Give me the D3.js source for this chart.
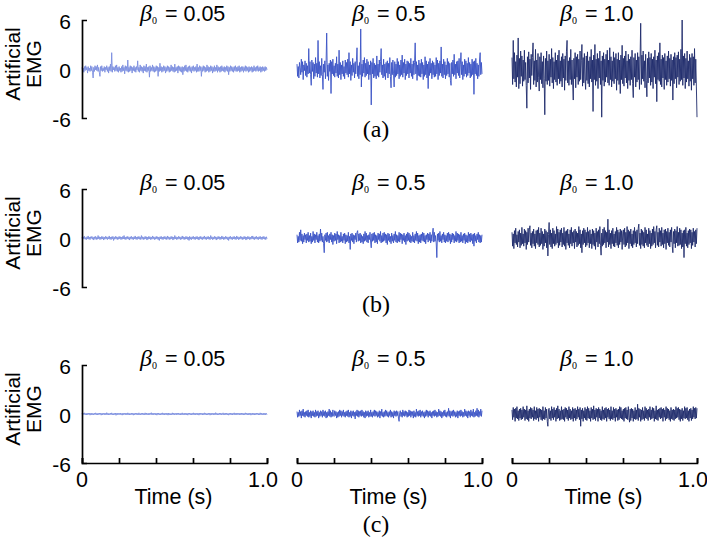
<!DOCTYPE html>
<html>
<head>
<meta charset="utf-8">
<script src="https://cdn.jsdelivr.net/npm/d3@7"></script>
<style>
  body { margin: 0; background: #fff; }
  svg { display: block; }
  text { font-family: "Liberation Sans", Arial, sans-serif; fill: #000; }
</style>
</head>
<body>
<div id="chart"></div>
<script>
// labels
const betas = ["0.05", "0.5", "1.0"];
const rowLabels = ["(a)", "(b)", "(c)"];
const yTicks = [-6, 0, 6];
const xTicks = [0, 0.2, 0.4, 0.6, 0.8, 1.0];
const xTickLabels = ["0", "1.0"];

// artificial EMG traces (arbitrary units, 0..1 s)
const emgA005 = [
  0.2,-0.3,0.1,-0.4,0.3,-0.2,0.4,-0.1,0.2,-0.5,0.3,-0.2,0.1,-0.3,0.4,-0.2,0.3,-0.4,-1.1,0.2,
  -0.3,0.4,-0.1,0.3,-0.2,0.5,-0.3,0.2,-0.4,-0.9,0.3,-0.2,0.4,-0.3,0.1,-0.2,0.3,-0.4,0.2,-0.1,
  0.4,-0.3,0.2,-0.5,0.3,-0.2,0.6,-0.3,2.0,-0.4,0.3,-0.1,0.2,-0.3,0.4,-0.2,0.5,-0.3,0.2,-0.4,
  0.3,-0.2,0.1,-0.4,0.3,-0.3,0.5,-0.2,0.2,-0.6,0.4,-0.2,0.3,-0.3,1.1,-0.4,0.2,-0.3,0.4,-0.2,
  0.3,-0.5,0.2,-0.2,0.4,-0.3,0.2,-0.4,0.3,-0.1,1.0,-0.3,0.2,-0.4,0.5,-0.2,0.3,-0.3,0.2,-0.5,
  0.4,-0.2,0.3,-0.3,0.6,-0.4,0.2,-0.2,0.3,-1.0,0.4,-0.3,0.2,-0.2,0.5,-0.3,0.3,-0.4,0.2,-0.3,
  0.4,-0.2,0.3,-0.9,0.2,-0.3,0.7,-0.2,0.3,-0.4,0.2,-0.3,0.4,-0.2,0.3,-0.5,0.2,-0.3,0.4,-0.2,
  0.3,-0.4,0.2,-0.3,0.5,-0.2,0.3,-0.3,0.2,-0.4,0.6,-0.3,0.2,-0.2,0.3,-0.5,0.4,-0.2,0.3,-0.3,
  0.2,-0.4,0.3,-0.7,0.2,-0.3,0.4,-0.2,0.5,-0.3,0.2,-0.4,0.3,-0.2,0.4,-0.3,0.2,-0.5,0.3,-0.2,
  0.4,-0.3,0.2,-0.2,0.3,-0.4,0.6,-0.3,0.2,-0.3,0.4,-0.2,0.3,-0.9,0.2,-0.3,0.4,-0.2,0.3,-0.4,
  0.2,-0.3,0.5,-0.2,0.3,-0.4,0.2,-0.3,0.4,-0.2,0.3,-0.5,0.2,-0.3,0.4,-0.3,0.2,-0.2,0.5,-0.4,
  0.3,-0.2,0.2,-0.4,0.3,-0.3,0.4,-0.2,0.2,-0.3,0.3,-0.4,0.2,-0.2,0.4,-0.3,0.3,-0.7,0.2,-0.3,
  0.4,-0.2,0.3,-0.3,0.2,-0.4,0.3,-0.2,0.4,-0.3,0.2,-0.3,0.3,-0.2,0.4,-0.4,0.2,-0.3,0.3,-0.2,
  0.3,-0.4,0.2,-0.2,0.4,-0.3,0.3,-0.2,0.2,-0.4,0.3,-0.3,0.2,-0.2,0.3,-0.4,0.2,-0.3,0.4,-0.2,
  0.2,-0.3,0.3,-0.2,0.4,-0.3,0.2,-0.2,0.3,-0.4,0.2,-0.3,0.3,-0.2,0.2,-0.3,0.3,-0.2,0.2,-0.1
];
const emgA05 = [
  0.6,-0.9,0.3,-1.1,0.8,0.2,-0.7,1.2,-0.4,0.9,-1.3,0.5,-0.2,1.0,-0.8,0.7,-1.0,0.4,-0.6,2.5,
  -0.5,0.9,-0.7,-2.0,1.1,-0.3,0.8,-1.2,0.6,-0.9,1.4,-0.5,0.7,-1.0,3.5,-0.6,0.9,-1.1,0.4,-0.8,
  1.3,-0.7,-2.5,0.6,-0.4,1.0,-1.2,0.8,4.4,-0.9,0.5,-1.4,0.7,-0.3,1.1,-3.0,0.9,-0.6,1.2,-0.8,
  0.4,-1.0,0.7,-0.5,1.5,-0.9,0.6,-1.1,2.3,-0.7,0.8,-1.3,0.5,-0.6,1.0,-0.9,0.3,-1.2,1.1,-0.5,
  0.8,-0.7,1.2,-1.0,2.0,-0.6,0.9,-1.4,0.5,-0.8,1.3,-0.4,0.7,-1.1,0.9,-0.6,1.0,2.6,-0.9,0.4,
  -1.2,0.8,-0.7,4.9,-2.2,0.6,-0.9,1.1,-0.5,1.4,-1.0,0.7,-0.8,1.2,-0.6,0.9,-1.3,0.5,-0.7,1.0,
  -4.4,0.8,-0.6,1.3,-1.1,0.7,-0.9,0.5,-1.2,1.6,-0.8,0.6,-1.0,1.1,-0.4,0.9,2.5,-0.7,0.5,-1.1,
  1.2,-0.9,0.6,-1.3,0.8,-0.5,1.0,-1.1,0.7,-0.6,1.4,-0.9,-2.3,0.8,-0.7,1.1,-0.5,-2.2,0.9,-1.0,
  0.6,-0.8,1.3,-0.6,0.9,-1.2,0.5,-0.9,1.1,-0.7,1.7,-1.0,0.8,-0.5,1.2,-1.3,0.6,-0.8,1.0,-0.6,
  0.9,-1.1,0.7,-0.5,1.3,-0.9,0.6,-1.2,1.0,-0.7,0.8,3.2,-0.6,0.9,-1.4,0.5,-0.8,1.1,-0.9,0.7,
  -1.0,1.2,-0.6,0.8,-1.3,0.5,-0.9,1.5,-0.7,1.0,-1.1,0.6,-2.4,0.9,-0.8,1.3,-0.5,0.7,-1.2,1.0,
  -0.7,0.8,-1.0,0.5,-0.9,1.4,-0.6,1.1,-1.3,0.7,-0.8,1.0,-0.5,2.7,-0.9,0.6,-1.1,1.2,-0.7,0.9,
  -1.2,0.5,-0.8,1.3,-0.6,0.9,-1.0,0.7,-1.4,-2.0,0.8,-0.6,1.1,-0.9,1.8,-0.7,0.6,-1.2,0.9,-0.5,
  1.0,-0.8,1.3,-1.1,0.6,2.0,-0.7,0.9,-1.3,0.5,-0.9,1.2,-0.6,1.0,-1.0,0.7,-0.8,1.4,-0.5,0.8,
  -1.1,0.6,-0.9,1.2,-0.7,0.9,-3.1,1.0,-0.6,1.3,-0.8,0.7,-1.2,0.5,-0.9,1.1,2.0,-0.7,0.8,-0.6
];
const emgA10 = [
  1.4,-1.9,3.5,-1.2,2.0,-1.6,0.9,-2.2,1.7,-1.0,3.8,-2.4,1.3,-1.8,2.2,-0.9,1.6,-2.1,1.1,-1.5,
  2.3,-1.3,0.8,-2.0,-4.8,1.5,-1.7,2.1,-1.1,1.2,-2.5,1.8,-0.8,1.4,3.2,-1.9,1.0,-1.4,2.4,-2.2,
  1.1,-1.6,1.9,-1.0,-2.7,1.5,-1.3,2.0,-1.8,0.9,-2.3,1.6,-1.2,-5.6,1.3,-1.5,2.2,-1.9,1.0,-1.4,
  1.8,-2.1,1.2,-1.0,2.5,-1.7,1.4,-2.4,0.9,-1.3,2.0,-1.6,1.1,-2.0,1.7,-1.2,2.3,-1.8,1.0,-1.5,
  1.5,-2.2,1.9,-1.1,1.2,-2.6,1.6,-1.4,2.1,3.5,-1.7,1.0,-2.0,1.4,-1.3,2.4,-1.9,1.1,-1.6,-3.8,
  1.3,-1.2,2.0,-2.3,1.5,-1.0,1.8,-1.9,1.2,-1.5,2.2,-1.3,1.0,3.0,-2.1,1.4,-1.7,1.9,-1.1,-2.5,
  1.6,-1.4,2.1,-1.8,1.0,-2.2,1.5,-1.2,2.4,-1.6,1.1,-5.2,1.7,-1.3,3.0,-2.0,1.2,-1.5,1.9,-2.4,
  1.3,-1.1,2.2,-1.9,1.0,-5.9,1.6,-1.4,2.0,-2.1,1.2,-1.6,1.8,-1.0,2.3,-1.7,1.1,-2.0,2.6,-1.3,
  1.5,-2.2,1.0,-1.5,2.1,-1.8,1.4,-1.2,1.9,-2.6,1.2,-1.4,2.0,-1.9,1.1,-3.0,1.7,-1.3,2.9,-1.8,
  1.3,-2.1,1.6,-1.1,2.2,-1.7,1.0,-2.4,1.8,-1.4,1.2,-2.0,1.5,-1.3,2.3,-1.8,-3.5,1.4,-1.0,1.9,
  -2.2,1.1,-1.6,2.0,-1.3,1.5,-2.5,1.2,5.6,-1.9,1.7,-1.2,2.2,-1.5,1.0,-2.3,1.8,-1.4,-3.4,1.3,
  -1.7,2.1,-1.1,1.4,-2.0,1.9,-1.6,1.2,-2.4,1.5,-1.0,2.3,-1.8,1.1,-4.0,1.6,-1.3,2.0,-1.5,3.2,
  -1.9,1.2,-2.2,1.7,-1.1,1.4,-2.5,1.9,-1.3,1.0,-2.0,1.6,-1.6,2.2,-1.2,1.3,-2.1,1.8,-1.4,1.1,
  -3.8,1.5,-1.8,2.0,-1.2,1.4,-2.3,1.7,-1.0,2.1,-1.9,1.2,-1.5,2.4,-1.3,6.0,-2.0,1.6,-1.1,1.9,
  -2.4,1.3,-1.6,2.2,-1.2,1.0,-2.1,1.8,-1.5,1.4,-2.6,1.9,-1.2,1.5,-2.0,2.5,-1.7,1.2,-2.2,-5.9
];
const emgB005 = [
  0.1,-0.2,0.15,-0.1,0.2,-0.15,0.05,-0.2,0.15,-0.1,0.25,-0.15,0.1,-0.2,0.15,-0.05,0.2,-0.15,0.1,-0.25,
  0.15,-0.1,0.2,-0.2,0.1,-0.15,0.3,-0.1,0.15,-0.2,0.1,-0.15,0.2,-0.1,0.15,-0.25,0.1,-0.15,0.2,-0.1,
  0.15,-0.2,0.1,-0.1,0.25,-0.15,0.1,-0.2,0.15,-0.1,0.2,-0.3,0.1,-0.15,0.2,-0.1,0.15,-0.2,0.1,-0.15,
  0.2,-0.1,0.15,-0.2,0.1,-0.15,0.2,-0.1,0.3,-0.15,0.1,-0.2,0.15,-0.1,0.2,-0.15,0.1,-0.25,0.15,-0.1,
  0.2,-0.15,0.1,-0.2,0.15,-0.1,0.25,-0.15,0.1,-0.2,0.15,-0.1,0.2,-0.15,0.1,-0.2,0.3,-0.1,0.15,-0.2,
  0.1,-0.15,0.2,-0.1,0.15,-0.25,0.1,-0.15,0.2,-0.1,0.15,-0.2,0.1,-0.15,0.25,-0.1,0.15,-0.2,0.1,-0.15,
  0.2,-0.1,0.15,-0.2,0.1,-0.3,0.15,-0.1,0.2,-0.15,0.1,-0.2,0.15,-0.1,0.2,-0.15,0.1,-0.2,0.25,-0.1,
  0.15,-0.2,0.1,-0.15,0.2,-0.1,0.15,-0.25,0.1,-0.15,0.3,-0.1,0.15,-0.2,0.1,-0.15,0.2,-0.1,0.15,-0.2,
  0.1,-0.15,0.25,-0.1,0.15,-0.2,0.1,-0.15,0.2,-0.1,0.15,-0.2,0.1,-0.3,0.2,-0.15,0.1,-0.2,0.15,-0.1,
  0.2,-0.15,0.1,-0.2,0.15,-0.1,0.2,-0.15,0.1,-0.25,0.15,-0.1,0.2,-0.15,0.1,-0.2,0.15,-0.1,0.25,-0.15,
  0.1,-0.2,0.15,-0.1,0.2,-0.15,0.1,-0.2,0.3,-0.1,0.15,-0.2,0.1,-0.15,0.2,-0.1,0.15,-0.25,0.1,-0.15,
  0.2,-0.1,0.15,-0.2,0.1,-0.15,0.25,-0.1,0.15,-0.2,0.1,-0.15,0.2,-0.1,0.15,-0.2,0.1,-0.3,0.15,-0.1,
  0.2,-0.15,0.1,-0.2,0.15,-0.1,0.2,-0.15,0.1,-0.2,0.25,-0.1,0.15,-0.2,0.1,-0.15,0.2,-0.1,0.15,-0.2,
  0.1,-0.15,0.2,-0.1,0.15,-0.25,0.1,-0.15,0.2,-0.1,0.15,-0.2,0.1,-0.15,0.2,-0.1,0.25,-0.15,0.1,-0.2,
  0.15,-0.1,0.2,-0.15,0.1,-0.2,0.15,-0.1,0.2,-0.15,0.1,-0.2,0.15,-0.1,0.2,-0.15,0.1,-0.2,0.15,-0.1
];
const emgB05 = [
  0.4,-0.6,0.2,-0.5,0.7,-0.3,1.0,-0.4,0.5,-0.7,0.3,-0.5,0.6,-0.2,0.4,-0.6,0.5,-0.3,0.7,-0.5,
  0.3,-0.4,0.6,-0.7,0.2,-0.5,0.8,-0.3,0.5,-0.6,0.4,-0.2,0.7,-0.5,0.3,-0.6,0.5,-0.4,1.1,-0.3,
  0.6,-0.5,0.2,-0.7,-1.8,0.4,-0.3,0.6,-0.5,0.7,-0.4,0.3,-0.6,0.5,-0.2,0.7,-0.5,0.4,-0.8,0.3,
  -0.4,0.6,-0.3,0.5,-0.7,0.8,-0.2,0.4,-0.6,0.3,-0.5,0.7,-0.4,0.2,-0.6,0.5,-0.3,0.6,-0.7,0.4,
  -0.5,0.3,-0.4,0.7,-0.6,0.2,-1.4,0.5,-0.3,0.6,-0.5,0.4,-0.7,0.3,-0.2,0.6,-0.5,0.7,0.9,-0.4,
  0.5,-0.3,0.6,-0.6,0.4,-0.5,0.2,-0.7,0.5,-0.4,0.8,-0.3,0.6,-0.5,0.3,-0.6,0.4,-0.2,0.7,-0.5,
  -1.2,0.5,-0.4,0.6,-0.3,0.7,-0.6,0.4,-0.5,0.3,-0.7,0.6,-0.2,0.5,-0.4,0.8,-0.6,0.3,-0.5,0.6,
  -0.4,0.7,-0.3,0.5,-0.6,0.4,-0.8,0.6,-0.3,0.5,-0.5,0.2,-0.7,0.6,-0.4,0.3,-0.6,0.5,-0.3,0.8,
  -0.5,0.4,-0.6,0.3,-0.4,0.7,-0.5,0.6,-0.2,0.5,-0.7,0.4,-0.3,0.6,-0.5,0.3,-0.8,0.5,-0.4,0.7,
  -0.3,0.6,-0.5,0.4,-0.6,0.2,-0.4,0.7,-0.5,0.3,-0.6,0.5,-0.3,0.8,-0.4,0.6,-0.7,0.3,-0.5,0.4,
  -0.6,0.5,-0.3,0.7,-0.4,0.6,-0.5,0.3,-0.7,0.4,-0.2,0.6,-0.5,0.5,-0.3,0.7,-0.6,0.4,-0.4,0.6,
  1.2,-0.5,0.7,-0.4,0.3,-0.6,-2.4,0.5,-0.3,0.6,-0.5,0.8,-0.4,0.3,-0.6,0.5,-0.2,0.7,-0.5,0.4,
  -0.6,0.3,-0.4,0.6,-0.5,0.7,-0.3,0.5,-0.7,0.4,-0.5,0.6,-0.2,0.5,-0.6,0.3,-0.4,0.8,-0.5,0.6,
  -0.3,0.5,-0.6,0.4,-0.5,0.7,-0.4,0.3,-0.6,0.5,-0.3,0.6,-0.7,0.4,-0.5,0.3,-0.6,0.7,-0.4,0.5,
  -0.5,0.6,-0.3,0.4,-0.7,0.5,-1.0,0.6,-0.4,0.3,-0.6,0.5,-0.2,0.7,-0.5,0.4,-0.6,0.3,-0.5,0.4
];
const emgB10 = [
  0.7,-1.0,0.5,-1.3,0.9,-0.6,1.2,-0.8,0.4,-1.1,0.8,-0.5,1.0,-1.2,0.6,-0.9,1.3,-0.7,0.5,-1.0,
  1.1,-0.6,0.9,-1.4,0.7,-0.8,1.2,-0.5,1.0,1.5,-0.9,0.6,-1.2,0.8,-0.7,1.1,-1.0,0.5,-1.3,0.9,
  -0.6,1.0,-0.8,1.3,-1.1,0.6,-0.9,1.2,-0.7,0.8,-1.4,0.5,-1.0,1.1,-0.6,0.9,-1.2,0.7,-2.2,0.4,
  1.9,-0.8,1.0,-1.1,0.6,-1.3,1.2,-0.7,0.9,-1.0,0.5,-0.8,1.4,-0.6,1.1,-1.2,0.7,-0.9,1.0,-0.5,
  1.2,-1.1,0.6,-0.8,1.3,-1.0,0.8,-1.4,0.9,-0.6,1.1,-0.9,0.5,-1.2,1.0,-0.7,1.3,-1.0,0.7,-0.6,
  0.9,-1.3,1.1,-0.5,0.8,-1.1,0.6,-0.9,1.4,-0.7,1.0,-1.2,0.5,-1.8,0.9,-0.8,1.2,-0.6,1.0,-1.1,
  0.7,-0.9,1.3,-0.6,0.8,-1.2,1.0,-0.7,0.5,-1.3,1.1,-0.8,0.9,-1.0,0.6,-1.4,1.2,-0.5,0.8,-1.1,
  1.0,-0.7,1.4,-0.9,-2.1,0.6,-1.0,1.1,-0.8,1.3,-0.6,0.9,-1.2,0.7,-0.5,2.3,-1.1,1.0,-0.8,0.6,
  -1.3,0.9,-0.7,1.2,-1.0,0.5,-1.1,0.8,-0.6,1.3,-0.9,1.0,-1.2,0.7,-0.8,1.1,-0.5,0.9,-1.4,0.6,
  1.0,-0.8,1.2,-1.1,0.7,-0.9,1.4,-0.6,1.0,-1.3,0.8,-0.7,1.1,-1.0,0.5,-1.2,0.9,-0.8,1.3,-0.6,
  0.8,-1.1,1.0,-0.7,1.2,1.7,-0.9,0.6,-1.3,1.1,-0.8,0.9,-1.0,0.7,-1.2,1.3,-0.6,1.0,-0.9,0.5,
  -1.1,1.2,-0.7,0.9,-1.3,0.6,-1.0,1.1,-0.8,1.4,-0.6,0.8,-1.2,1.0,1.5,-0.9,0.7,-1.1,1.2,-0.5,
  0.9,-1.0,1.3,-0.8,0.6,-1.2,1.0,-0.7,1.1,-1.4,0.8,-0.6,1.2,-0.9,0.7,-1.1,1.0,-0.5,1.3,-1.0,
  -1.8,0.8,-0.7,1.1,-1.2,0.9,-0.6,1.4,-1.0,0.7,-0.9,1.2,-0.8,1.0,-1.3,0.6,-1.1,0.9,-2.4,1.0,
  -0.7,1.3,-1.0,0.6,-1.2,0.9,-0.8,1.1,-0.6,1.0,-1.3,0.7,-0.9,1.2,-0.5,0.8,-1.1,1.0,-0.7,1.2
];
const emgC005 = [
  0.08,-0.12,0.1,-0.06,0.14,-0.1,0.06,-0.12,0.1,-0.08,0.12,-0.06,0.1,-0.14,0.08,-0.1,0.12,-0.08,0.06,-0.12,
  0.1,-0.06,0.14,-0.1,0.08,-0.12,0.1,-0.08,0.12,-0.06,0.1,-0.14,0.08,-0.1,0.12,-0.06,0.1,-0.12,0.08,-0.1,
  0.16,-0.08,0.1,-0.12,0.06,-0.1,0.12,-0.08,0.14,-0.1,0.06,-0.12,0.1,-0.08,0.12,-0.16,0.08,-0.1,0.12,-0.06,
  0.1,-0.08,0.12,-0.1,0.06,-0.14,0.1,-0.08,0.12,-0.06,0.1,-0.12,0.08,-0.1,0.14,-0.08,0.1,-0.12,0.06,-0.1,
  0.12,-0.08,0.1,-0.14,0.08,-0.1,0.12,-0.06,0.1,-0.12,0.08,-0.1,0.14,-0.08,0.06,-0.12,0.1,-0.08,0.12,-0.1,
  0.08,-0.1,0.14,-0.08,0.12,-0.1,0.06,-0.12,0.1,-0.08,0.12,-0.06,0.16,-0.1,0.08,-0.12,0.1,-0.06,0.12,-0.1,
  0.08,-0.14,0.1,-0.08,0.12,-0.1,0.06,-0.12,0.1,-0.08,0.14,-0.1,0.08,-0.12,0.1,-0.06,0.12,-0.1,0.08,-0.14,
  0.12,-0.1,0.08,-0.12,0.06,-0.1,0.14,-0.08,0.1,-0.12,0.08,-0.06,0.12,-0.1,0.1,-0.08,0.12,-0.1,0.06,-0.12,
  0.1,-0.08,0.14,-0.1,0.06,-0.12,0.1,-0.08,0.12,-0.1,0.08,-0.14,0.1,-0.06,0.12,-0.1,0.08,-0.12,0.1,-0.08,
  0.14,-0.1,0.08,-0.12,0.1,-0.06,0.12,-0.1,0.08,-0.14,0.1,-0.08,0.12,-0.06,0.1,-0.12,0.08,-0.1,0.14,-0.08,
  0.1,-0.12,0.06,-0.1,0.12,-0.08,0.1,-0.14,0.08,-0.1,0.12,-0.06,0.1,-0.12,0.08,-0.1,0.16,-0.08,0.1,-0.12,
  0.06,-0.1,0.12,-0.08,0.1,-0.12,0.08,-0.06,0.14,-0.1,0.08,-0.12,0.1,-0.08,0.12,-0.1,0.06,-0.14,0.1,-0.08,
  0.12,-0.1,0.08,-0.12,0.1,-0.06,0.14,-0.1,0.08,-0.12,0.1,-0.08,0.12,-0.06,0.1,-0.12,0.08,-0.1,0.12,-0.08,
  0.1,-0.12,0.08,-0.1,0.14,-0.06,0.1,-0.12,0.08,-0.1,0.12,-0.08,0.1,-0.14,0.06,-0.1,0.12,-0.08,0.1,-0.12,
  0.08,-0.1,0.12,-0.06,0.1,-0.12,0.08,-0.1,0.14,-0.08,0.1,-0.12,0.06,-0.1,0.12,-0.08,0.1,-0.12,0.08,-0.06
];
const emgC05 = [
  0.3,-0.4,0.2,-0.3,0.5,-0.2,0.3,-0.5,0.4,-0.2,0.6,-0.3,0.2,-0.4,0.3,-0.2,0.4,-0.3,0.5,-0.4,
  0.2,-0.3,0.4,-0.5,0.3,-0.2,0.4,-0.3,0.2,-0.4,0.5,-0.3,0.3,-0.2,0.4,-0.5,0.2,-0.3,0.4,-0.2,
  0.3,-0.4,0.5,-0.2,0.3,-0.3,0.4,-0.5,0.2,-0.4,0.3,-0.2,0.6,-0.3,0.4,-0.4,0.2,-0.3,0.5,-0.2,
  -0.3,0.4,-0.2,0.3,-0.5,0.2,-0.4,0.3,-0.3,0.5,-0.2,0.4,-0.4,0.3,-0.2,0.5,-0.3,0.2,-0.4,0.3,
  -0.2,0.4,-0.3,0.5,-0.4,0.2,-0.3,0.4,-0.5,0.3,-0.2,0.4,-0.3,0.2,-0.6,0.3,-0.2,0.5,-0.3,0.4,
  -0.4,0.3,-0.2,0.4,-0.3,0.5,-0.2,0.3,-0.4,0.2,-0.5,0.4,-0.3,0.3,-0.2,0.4,-0.4,0.2,-0.3,0.5,
  -0.3,0.2,-0.4,0.3,-0.2,0.5,-0.3,0.4,-0.2,0.3,-0.4,0.2,-0.3,0.4,-0.5,0.3,-0.2,0.6,-0.3,0.2,
  -0.4,0.3,-0.3,0.5,-0.2,0.4,-0.3,0.2,-0.4,0.3,-0.2,0.5,-0.4,0.3,-0.3,0.2,-0.5,0.4,-0.2,0.3,
  -0.3,0.4,-0.2,0.3,-0.5,-0.9,0.2,0.4,-0.3,0.2,-0.4,0.5,-0.2,0.3,-0.3,0.4,-0.2,0.3,-0.4,0.2,
  -0.3,0.5,-0.2,0.4,-0.4,0.3,-0.2,0.3,-0.5,0.4,-0.3,0.2,-0.4,0.6,-0.2,0.3,-0.3,0.4,-0.2,0.5,
  -0.4,0.3,-0.2,0.4,-0.3,0.2,-0.5,0.3,-0.3,0.5,-0.2,0.4,-0.4,0.3,-0.2,0.4,-0.3,0.2,-0.5,0.3,
  -0.2,0.4,-0.3,0.5,-0.2,0.3,-0.4,0.2,-0.3,0.6,-0.2,0.4,-0.3,0.3,-0.5,0.2,-0.3,0.4,-0.2,0.5,
  -0.3,0.2,-0.4,0.3,-0.2,0.7,-0.3,0.4,-0.5,0.3,-0.2,0.4,-0.3,0.5,-0.2,0.3,-0.4,0.2,-0.3,0.4,
  -0.5,0.3,-0.2,0.4,-0.3,0.5,-0.2,0.3,-0.4,0.2,-0.3,0.6,-0.2,0.4,-0.3,0.3,-0.5,0.4,-0.2,0.3,
  -0.4,0.5,-0.2,0.3,-0.3,0.6,-0.4,0.2,-0.3,0.4,-0.2,0.7,-0.3,0.5,-0.4,0.3,-0.2,0.6,-0.3,0.4
];
const emgC10 = [
  0.5,-0.7,0.8,-0.4,0.6,-0.9,0.7,-0.5,0.9,-0.6,0.4,-0.8,0.6,-0.5,0.7,-0.7,0.5,-0.6,0.9,-0.4,
  0.6,-0.8,0.5,-0.6,1.0,-0.7,0.4,-0.9,0.6,-0.5,0.8,-0.6,0.7,-0.4,0.5,-0.8,0.9,-0.6,0.4,-0.7,
  0.8,-0.5,0.6,-0.9,0.7,-0.4,0.6,-0.7,0.5,-0.8,0.9,-0.6,0.4,-0.7,0.8,-0.5,0.6,-0.9,-1.5,0.5,
  0.7,-0.6,0.4,-0.8,0.9,-0.5,0.6,-0.7,0.8,-0.4,0.5,-0.9,0.7,-0.6,1.0,-0.5,0.6,-0.8,0.4,-0.7,
  0.9,-0.6,0.5,-0.7,0.6,-0.9,0.8,-0.4,0.7,-0.6,0.5,-0.8,0.9,-0.5,0.6,-0.7,0.4,-0.6,0.8,-0.9,
  0.6,-0.5,0.7,-0.8,0.5,-0.6,0.9,-0.4,0.6,-0.7,0.8,-1.5,0.5,-0.6,0.7,-0.9,0.4,-0.5,0.8,-0.7,
  0.6,-0.8,0.9,-0.5,0.7,-0.6,0.4,-0.9,0.8,-0.5,0.6,-0.7,1.0,-0.6,0.5,-0.8,0.7,-0.4,0.6,-0.9,
  0.8,-0.5,0.6,-0.7,0.4,-0.8,0.9,-0.6,0.5,-0.7,0.7,-0.5,0.8,-0.9,0.6,-0.4,0.7,-0.6,0.5,-0.8,
  0.9,-0.6,0.4,-0.7,0.8,-0.5,0.6,-0.9,0.7,-0.4,0.5,-0.8,0.6,-0.7,0.9,-0.5,0.8,-0.6,0.4,-0.7,
  0.6,-0.9,0.7,-0.5,0.8,-0.6,0.5,-0.7,0.9,-0.4,-1.0,0.6,-0.8,0.7,-0.5,0.6,-0.9,0.4,-0.6,0.8,
  -0.7,0.5,-0.6,1.2,-0.8,0.7,-0.4,0.6,-0.9,0.5,-0.7,0.8,-0.6,0.4,-0.8,0.9,-0.5,0.7,-0.6,0.5,
  -0.8,0.6,-0.4,0.9,-0.7,0.5,-0.6,0.8,-0.5,0.7,-0.9,0.4,-0.6,1.0,-0.7,0.5,-0.8,0.6,-0.4,0.7,
  -0.6,0.8,-0.5,0.6,-0.9,0.7,-0.4,0.5,-0.8,0.9,-0.6,0.7,-0.5,0.6,-0.7,0.4,-0.9,0.8,-0.6,0.5,
  -0.7,0.6,-0.8,0.5,-0.6,0.9,-0.5,0.7,-0.4,0.8,-0.7,0.6,-0.9,0.5,-0.6,0.7,-0.8,0.4,-0.5,0.9,
  -0.6,0.7,-0.5,0.8,-0.7,0.4,-0.9,0.6,-0.5,0.7,-0.8,0.5,-0.6,0.9,-0.4,0.7,-0.6,0.8,-0.5,0.7
];

const signals = [
  [emgA005, emgA05, emgA10],
  [emgB005, emgB05, emgB10],
  [emgC005, emgC05, emgC10]
];
const colors = ["#7a8ddf", "#3a52c5", "#1e2a6b"];

const W = 707, H = 544;
const rowTop = [20, 189, 365], rowH = 98;
const colX = [82, 297, 512], colW = 185;
const titleX = [140, 352, 560];
const rowLabelY = [137, 312, 532];

const svg = d3.select("#chart")
  .append("svg")
  .attr("width", W)
  .attr("height", H);

rowLabels.forEach((lab, r) => {
  let y = d3.scaleLinear().domain([-6, 6]).range([rowTop[r] + rowH, rowTop[r]]);

  // traces
  betas.forEach((b, c) => {
    let data = signals[r][c];
    let x = d3.scaleLinear().domain([0, 1]).range([colX[c], colX[c] + colW]);
    let line = d3.line()
      .x((d, i) => x(i / (data.length - 1)))
      .y((d) => y(d));

    svg.append("path")
      .datum(data)
      .attr("d", line)
      .attr("fill", "none")
      .attr("stroke", colors[c])
      .attr("stroke-width", 0.9);

    // title  beta_0 = ...
    let t = svg.append("text")
      .attr("x", titleX[c])
      .attr("y", rowTop[r] + 1);
    t.append("tspan")
      .style("font-family", "'Liberation Serif', 'Times New Roman', serif")
      .style("font-style", "italic")
      .style("font-size", "24px")
      .text("\u03b2");
    t.append("tspan")
      .style("font-family", "'Liberation Serif', 'Times New Roman', serif")
      .style("font-size", "10px")
      .attr("dy", 3)
      .text("0");
    t.append("tspan")
      .style("font-size", "21.5px")
      .attr("dy", -3)
      .attr("dx", 2)
      .text(" = " + b);

    // x axis only under the last row
    if (r === 2) {
      let xa = svg.append("g")
        .attr("transform", "translate(0," + (rowTop[r] + rowH) + ")")
        .call(d3.axisTop(x).tickValues(xTicks).tickSize(5).tickSizeOuter(5).tickFormat(""));
      xa.selectAll("path, line").attr("stroke", "#000").attr("stroke-width", 1.7);

      svg.append("text")
        .attr("x", x(0))
        .attr("y", rowTop[r] + rowH + 24)
        .attr("text-anchor", "middle")
        .style("font-size", "21.5px")
        .text(xTickLabels[0]);
      svg.append("text")
        .attr("x", x(1) - 4)
        .attr("y", rowTop[r] + rowH + 24)
        .attr("text-anchor", "middle")
        .style("font-size", "21.5px")
        .text(xTickLabels[1]);
      svg.append("text")
        .attr("x", x(0.5) - 1)
        .attr("y", rowTop[r] + rowH + 41)
        .attr("text-anchor", "middle")
        .style("font-size", "21.5px")
        .text("Time (s)");
    }
  });

  // y axis bracket on first column
  let ya = svg.append("g")
    .attr("transform", "translate(" + colX[0] + ",0)")
    .call(d3.axisRight(y).tickValues([]).tickSizeOuter(5));
  ya.selectAll("path").attr("stroke", "#000").attr("stroke-width", 1.7);

  svg.selectAll(null)
    .data(yTicks)
    .enter()
    .append("text")
    .attr("x", 71)
    .attr("y", (d) => y(d) + 1)
    .attr("text-anchor", "end")
    .attr("dominant-baseline", "central")
    .style("font-size", "21px")
    .text((d) => d);

  let lg = svg.append("g")
    .attr("transform", "translate(0," + (y(0) - 5) + ") rotate(-90)");
  lg.append("text")
    .attr("x", 0)
    .attr("y", 20)
    .attr("text-anchor", "middle")
    .style("font-size", "21px")
    .text("Artificial");
  lg.append("text")
    .attr("x", 0)
    .attr("y", 41)
    .attr("text-anchor", "middle")
    .style("font-size", "21px")
    .text("EMG");

  svg.append("text")
    .attr("x", 376)
    .attr("y", rowLabelY[r])
    .attr("text-anchor", "middle")
    .style("font-family", "'Liberation Serif', 'Times New Roman', serif")
    .style("font-size", "24px")
    .text(lab);
});
</script>
</body>
</html>
